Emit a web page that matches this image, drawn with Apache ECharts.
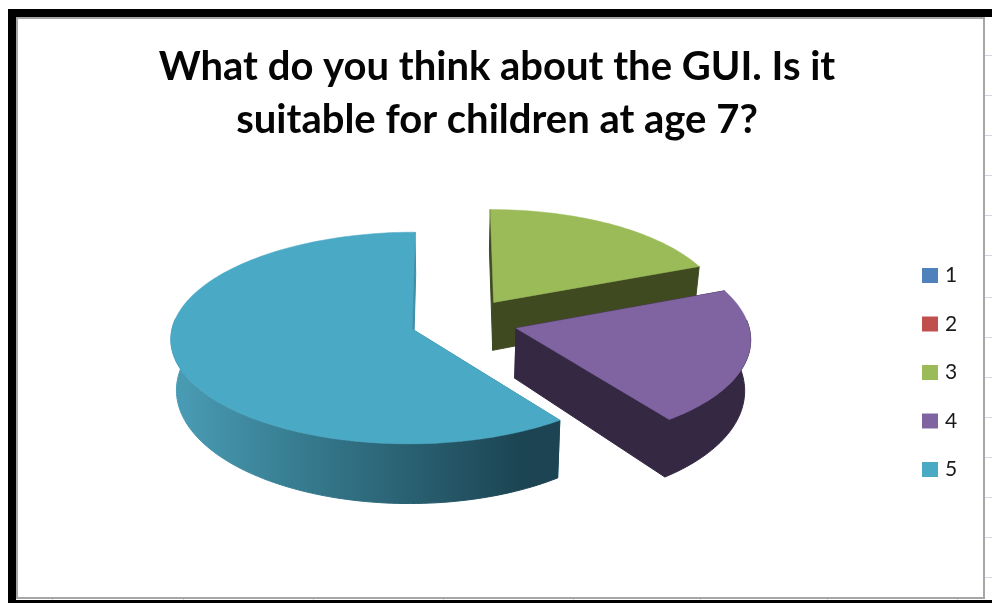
<!DOCTYPE html>
<html>
<head>
<meta charset="utf-8">
<style>html,body{margin:0;padding:0;background:#fff}#chart{width:992px;height:603px}</style>
<script src="https://cdn.jsdelivr.net/npm/echarts@6/dist/echarts.min.js"></script>
</head>
<body>
<div id="chart"></div>
<script>
const titleText = 'What do you think about the GUI. Is it\nsuitable for children at age 7?';
const categories = ['1', '2', '3', '4', '5'];
const shares = [0, 0, 19, 21, 60];
const topColors = ['#4F81BD', '#C0504D', '#9BBB59', '#8064A2', '#4AA9C4'];
const wallColors = ['#27405E', '#602826', '#3F4A21', '#352843', '#3E8FA8'];
const sheetRows = [55, 95, 135, 175, 215, 255, 297, 337, 377, 417, 457, 497, 537, 577];
const sheetCols = [52, 183, 313, 443, 573, 700, 827, 957];

// Projection of the tilted pie: a ground plane seen in perspective,
// slightly narrowed on the right-hand side.
const view = { vx: 450, vy: -907, depth: 1236, persp: 0.085, radius: 240, thick: 50, shrink: 0.98, narrow: 0.018 };
const pieCentre = { x: 0.0583, y: 0.0704 };
const explode = 0.2277;
const total = shares.reduce((a, b) => a + b, 0);

function project(wx, wy, low) {
  const f = 1 / (1 + view.persp * wy);
  const sx = view.vx + view.radius * wx * f * (1 - view.narrow * Math.max(0, wx));
  const sy = view.vy + view.depth * f;
  return low
    ? [view.vx + (sx - view.vx) * view.shrink, sy + view.thick * f * f]
    : [sx, sy];
}

function sliceShapes(index) {
  let before = 0;
  for (let i = 0; i < index; i++) before += shares[i];
  const a0 = before / total * Math.PI * 2;
  const a1 = (before + shares[index]) / total * Math.PI * 2;
  const mid = (a0 + a1) / 2;
  // Each slice is pulled out of the pie along its own bisector.
  const ox = pieCentre.x + explode * Math.sin(mid);
  const oy = pieCentre.y + explode * Math.cos(mid);
  const rim = [];
  const front = [];
  const steps = Math.max(2, Math.ceil((a1 - a0) * 40));
  for (let s = 0; s <= steps; s++) {
    const a = a0 + (a1 - a0) * s / steps;
    const p = [ox + Math.sin(a), oy + Math.cos(a)];
    rim.push(p);
    if (Math.cos(a) < 0.1) front.push(p);
  }
  const top = rim.map(p => project(p[0], p[1], false));
  const low = rim.map(p => project(p[0], p[1], true));
  const frontTop = front.map(p => project(p[0], p[1], false));
  const frontLow = front.map(p => project(p[0], p[1], true));
  const apexT = project(ox, oy, false);
  const apexL = project(ox, oy, true);
  return {
    top: [apexT].concat(top),
    outer: frontTop.concat(frontLow.reverse()),
    wallStart: [apexT, top[0], low[0], apexL],
    wallEnd: [apexT, top[top.length - 1], low[low.length - 1], apexL]
  };
}

function rimFill(index) {
  if (index !== 4) return wallColors[index];
  return new echarts.graphic.LinearGradient(172, 0, 553, 0, [
    { offset: 0, color: '#4A9DB6' },
    { offset: 0.35, color: '#367A8E' },
    { offset: 0.7, color: '#26596A' },
    { offset: 0.92, color: '#1C4452' },
    { offset: 1, color: '#1C4452' }
  ], true);
}

function renderSlice(index) {
  return function (params, api) {
    if (!(api.value(0) > 0)) return null;
    const s = sliceShapes(index);
    const poly = (points, color, width) => ({
      type: 'polygon',
      shape: { points: points },
      style: { fill: color, stroke: color, lineWidth: width }
    });
    return {
      type: 'group',
      children: [
        poly(s.wallStart, wallColors[index], 1),
        poly(s.wallEnd, wallColors[index], 1),
        poly(s.outer, rimFill(index), 1),
        poly(s.top, topColors[index], 0.5)
      ]
    };
  };
}

// Spreadsheet cells behind the chart, then the black frame and the chart area.
const sheet = [];
sheetRows.forEach(y => sheet.push({ type: 'rect', shape: { x: 8, y: y, width: 984, height: 1 }, style: { fill: '#D0D7E5' } }));
sheetCols.forEach(x => sheet.push({ type: 'rect', shape: { x: x, y: 9, width: 1, height: 594 }, style: { fill: '#D0D7E5' } }));
const panel = [
  { type: 'rect', shape: { x: 8, y: 9, width: 984, height: 8 }, style: { fill: '#000' } },
  { type: 'rect', shape: { x: 8, y: 9, width: 8, height: 594 }, style: { fill: '#000' } },
  { type: 'rect', shape: { x: 8, y: 600, width: 984, height: 3 }, style: { fill: '#000' } },
  { type: 'rect', shape: { x: 17, y: 18, width: 967, height: 580 }, style: { fill: '#fff', stroke: '#A6A6A6', lineWidth: 2 } }
];

const chart = echarts.init(document.getElementById('chart'), null, { renderer: 'canvas' });
chart.setOption({
  animation: false,
  backgroundColor: '#fff',
  title: {
    text: titleText,
    left: 492,
    top: 36,
    textAlign: 'center',
    textStyle: { fontFamily: 'Lato', fontWeight: 'bold', fontSize: 40, lineHeight: 53, color: '#050505' }
  },
  legend: {
    orient: 'vertical',
    left: 922,
    top: 265,
    padding: 0,
    itemWidth: 16,
    itemHeight: 15,
    itemGap: 27.5,
    icon: 'rect',
    data: categories,
    selectedMode: false,
    textStyle: { fontFamily: 'Lato', fontSize: 21, color: '#1a1a1a', padding: [0, 0, 0, 2] }
  },
  graphic: { elements: sheet.concat(panel) },
  series: categories.map((name, i) => ({
    type: 'custom',
    name: name,
    coordinateSystem: 'none',
    silent: true,
    z: 5,
    itemStyle: { color: topColors[i] },
    data: [shares[i]],
    renderItem: renderSlice(i)
  }))
});
</script>
</body>
</html>
